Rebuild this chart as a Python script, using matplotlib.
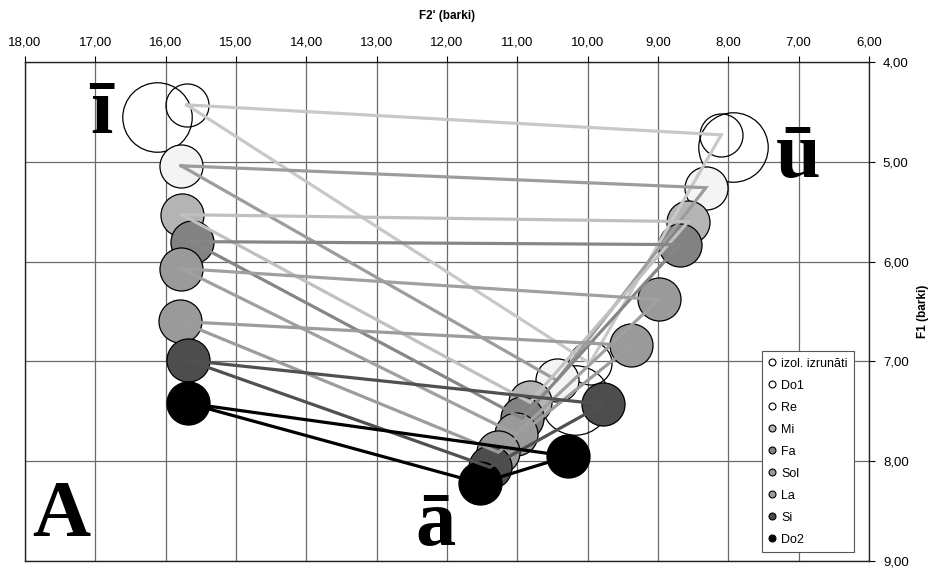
import matplotlib.pyplot as plt
from matplotlib.lines import Line2D
from matplotlib.ticker import FuncFormatter, MultipleLocator

# series (notes) shown in the legend
series = ['izol. izrunāti', 'Do1', 'Re', 'Mi', 'Fa', 'Sol', 'La', 'Si', 'Do2']

# F2' (barki) for the vowels ī, ū, ā
f2_i = [16.12, 15.70, 15.78, 15.77, 15.63, 15.78, 15.80, 15.68, 15.68]
f2_u = [7.93, 8.10, 8.32, 8.57, 8.69, 8.99, 9.38, 9.78, 10.28]
f2_a = [10.18, 9.97, 10.44, 10.82, 10.93, 11.02, 11.27, 11.39, 11.53]

# F1 (barki) for the vowels ī, ū, ā
f1_i = [4.55, 4.43, 5.04, 5.53, 5.80, 6.07, 6.60, 6.99, 7.42]
f1_u = [4.85, 4.73, 5.26, 5.60, 5.83, 6.38, 6.84, 7.43, 7.95]
f1_a = [7.39, 7.02, 7.19, 7.41, 7.57, 7.73, 7.91, 8.06, 8.22]

# look of each series
fills = ['none', 'none', '#f4f4f4', '#b4b4b4', '#828282', '#9a9a9a', '#9a9a9a', '#4d4d4d', '#000000']
legend_fills = ['white', 'white', 'white', '#b4b4b4', '#828282', '#9a9a9a', '#9a9a9a', '#4d4d4d', '#000000']
line_colors = [None, '#c8c8c8', '#9c9c9c', '#c0c0c0', '#868686', '#a0a0a0', '#9c9c9c', '#505050', '#000000']
marker_sizes = [50, 31, 31, 31, 31, 31, 31, 31, 31]

plt.rcParams['font.family'] = ['Liberation Sans', 'DejaVu Sans']

fig = plt.figure(figsize=(9.32, 5.69), dpi=100)
ax = fig.add_axes([0.0268, 0.0141, 0.9056, 0.877])

# circles first, connecting triangles on top
for k in range(len(series)):
    ax.plot([f2_i[k], f2_u[k], f2_a[k]], [f1_i[k], f1_u[k], f1_a[k]],
            linestyle='none', marker='o', markersize=marker_sizes[k],
            markerfacecolor=fills[k], markeredgecolor='black',
            markeredgewidth=0.9, zorder=2)

for k in range(len(series)):
    if line_colors[k] is None:
        continue
    ax.plot([f2_i[k], f2_u[k], f2_a[k], f2_i[k]],
            [f1_i[k], f1_u[k], f1_a[k], f1_i[k]],
            color=line_colors[k], linewidth=2.3, solid_joinstyle='miter', zorder=3)

ax.set_xlim(18, 6)
ax.set_ylim(9, 4)
ax.xaxis.set_major_locator(MultipleLocator(1))
ax.yaxis.set_major_locator(MultipleLocator(1))
fmt = FuncFormatter(lambda v, pos: f'{v:.2f}'.replace('.', ','))
ax.xaxis.set_major_formatter(fmt)
ax.yaxis.set_major_formatter(fmt)

ax.xaxis.tick_top()
ax.xaxis.set_label_position('top')
ax.yaxis.tick_right()
ax.yaxis.set_label_position('right')
ax.tick_params(axis='both', direction='out', length=4, width=0.8, labelsize=9.5, pad=6)
ax.set_xlabel("F2' (barki)", fontsize=8.5, fontweight='bold', labelpad=12)
ax.set_ylabel('F1 (barki)', fontsize=8.5, fontweight='bold', labelpad=6)

ax.grid(True, color='#6a6a6a', linewidth=0.9)
ax.set_axisbelow(True)
for sp in ax.spines.values():
    sp.set_color('#222222')
    sp.set_linewidth(1.0)

# vowel labels
big = dict(family=['Liberation Serif', 'DejaVu Serif'], fontsize=58, fontweight='bold',
           ha='center', va='baseline', zorder=4)
ax.text(16.92, 4.71, 'ī', **big)
ax.text(7.01, 5.15, 'ū', **big)
ax.text(12.16, 8.84, 'ā', **big)
ax.text(17.49, 8.75, 'A', **big)

handles = [Line2D([], [], linestyle='none', marker='o', markersize=5,
                  markerfacecolor=legend_fills[k], markeredgecolor='black',
                  markeredgewidth=0.8) for k in range(len(series))]
leg = ax.legend(handles, series, loc='lower right', bbox_to_anchor=(0.982, 0.018),
                borderaxespad=0, fontsize=9, labelspacing=0.8, handlelength=0.6,
                handletextpad=0.4, borderpad=0.5, fancybox=False, framealpha=1,
                edgecolor='#555555')
leg.get_frame().set_linewidth(0.8)

plt.savefig('out.png', dpi=100)
